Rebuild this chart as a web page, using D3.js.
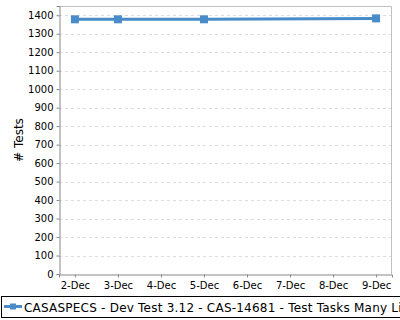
<!DOCTYPE html>
<html>
<head>
<meta charset="utf-8">
<script src="https://cdn.jsdelivr.net/npm/d3@7"></script>
<style>
  body { margin: 0; background: #fff; }
  svg { display: block; font-family: "DejaVu Sans", sans-serif; }
</style>
</head>
<body>
<div id="viz"></div>
<script>
// days shown on the x axis (December)
const days = [2, 3, 4, 5, 6, 7, 8, 9];
const dayLabels = ['2-Dec', '3-Dec', '4-Dec', '5-Dec', '6-Dec', '7-Dec', '8-Dec', '9-Dec'];
// series points
const pointDays = [2, 3, 5, 9];
const pointValues = [1378, 1378, 1378, 1383];
const yTicks = [0, 100, 200, 300, 400, 500, 600, 700, 800, 900, 1000, 1100, 1200, 1300, 1400];
const seriesName = 'CASASPECS - Dev Test 3.12 - CAS-14681 - Test Tasks Many Li';

const W = 400, H = 320;
const m = { left: 59, right: 8, top: 6, bottom: 46 };

const svg = d3.select('#viz').append('svg')
  .attr('width', W)
  .attr('height', H);

const x = d3.scaleLinear().domain([1.63, 9.37]).range([m.left, W - m.right]);
const y = d3.scaleLinear().domain([0, 1450]).range([H - m.bottom, m.top]);

// grid
svg.append('g')
  .selectAll('line')
  .data(yTicks.slice(1))
  .enter()
  .append('line')
  .attr('x1', m.left)
  .attr('x2', W - m.right)
  .attr('y1', d => Math.round(y(d)) + 0.5)
  .attr('y2', d => Math.round(y(d)) + 0.5)
  .attr('stroke', '#dcdcdc')
  .attr('stroke-dasharray', '3,3');

// top / right frame
svg.append('path')
  .attr('d', `M${m.left},${m.top + 0.5}H${W - m.right - 0.5}V${H - m.bottom}`)
  .attr('fill', 'none')
  .attr('stroke', '#c0c0c0');

const yAxis = svg.append('g')
  .attr('transform', `translate(${m.left + 0.5},0)`)
  .call(d3.axisLeft(y).tickValues(yTicks).tickFormat(d3.format('d')).tickSize(3).tickPadding(3));

const xAxis = svg.append('g')
  .attr('transform', `translate(0,${H - m.bottom + 0.5})`)
  .call(d3.axisBottom(x).tickValues(days).tickFormat((d, i) => dayLabels[i]).tickSize(3).tickPadding(4));

[yAxis, xAxis].forEach(a => {
  a.selectAll('path, line').attr('stroke', '#888');
  a.selectAll('text').attr('fill', '#000').style('font-size', '10px').style('font-family', '"DejaVu Sans", sans-serif');
});

svg.append('text')
  .attr('transform', 'translate(23,140) rotate(-90)')
  .attr('text-anchor', 'middle')
  .style('font-size', '12px')
  .text('# Tests');

// series
const pts = pointDays.map((d, i) => [d, pointValues[i]]);
const color = '#4a8cc9';

svg.append('path')
  .datum(pts)
  .attr('fill', 'none')
  .attr('stroke', color)
  .attr('stroke-width', 3)
  .attr('d', d3.line().x(d => x(d[0])).y(d => y(d[1])));

svg.selectAll('.pt')
  .data(pts)
  .enter()
  .append('rect')
  .attr('class', 'pt')
  .attr('x', d => x(d[0]) - 4)
  .attr('y', d => y(d[1]) - 4)
  .attr('width', 8)
  .attr('height', 8)
  .attr('fill', color);

// legend
const lg = svg.append('g');
lg.append('rect')
  .attr('x', 1.5).attr('y', 296.5)
  .attr('width', W + 10).attr('height', 21)
  .attr('fill', '#fff').attr('stroke', '#000');
lg.append('line')
  .attr('x1', 4).attr('x2', 22)
  .attr('y1', 306.5).attr('y2', 306.5)
  .attr('stroke', color).attr('stroke-width', 3);
lg.append('rect')
  .attr('x', 10).attr('y', 303.5).attr('width', 6).attr('height', 6)
  .attr('fill', color);
lg.append('text')
  .attr('x', 24).attr('y', 311.5)
  .style('font-size', '12px')
  .style('letter-spacing', '0.22px')
  .text(seriesName);
</script>
</body>
</html>
